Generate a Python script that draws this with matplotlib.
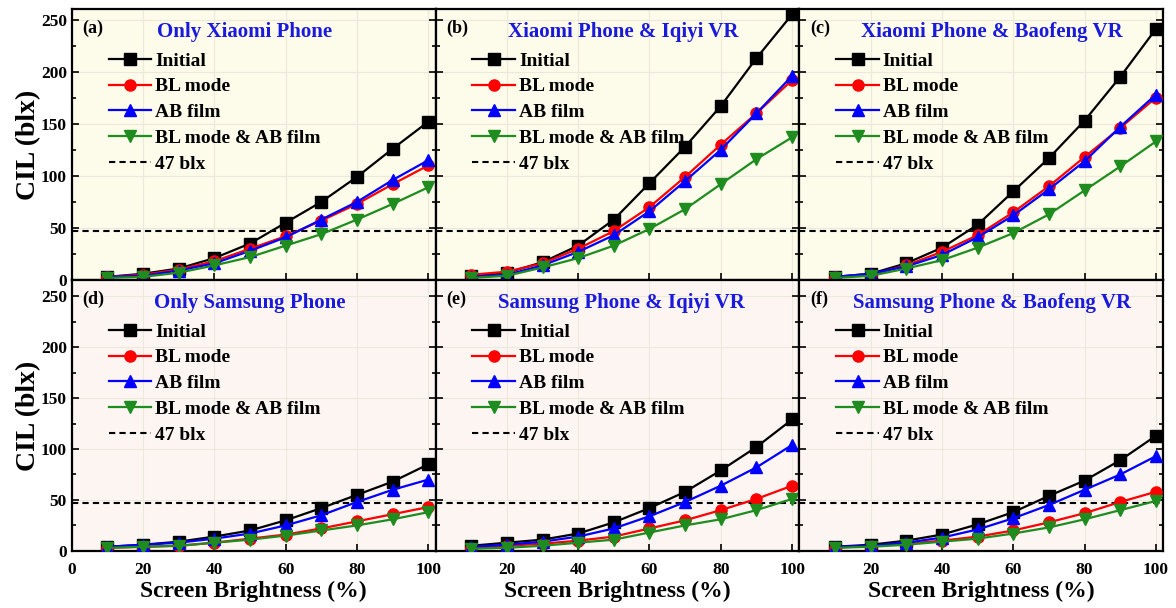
import matplotlib
matplotlib.use("Agg")
import matplotlib.pyplot as plt
from matplotlib.ticker import MultipleLocator

plt.rcParams['font.family'] = ['Liberation Serif', 'DejaVu Serif']
plt.rcParams['font.weight'] = 'bold'

brightness = [10, 20, 30, 40, 50, 60, 70, 80, 90, 100]
threshold = 47

titles = ["Only Xiaomi Phone", "Xiaomi Phone & Iqiyi VR", "Xiaomi Phone & Baofeng VR",
          "Only Samsung Phone", "Samsung Phone & Iqiyi VR", "Samsung Phone & Baofeng VR"]
letters = ["(a)", "(b)", "(c)", "(d)", "(e)", "(f)"]

# CIL values per panel: Initial, BL mode, AB film, BL mode & AB film
initial_a = [3, 6, 11, 21, 35, 55, 75, 99, 126, 152]
bl_a = [3, 5, 10, 18, 30, 42, 57, 73, 92, 110]
ab_a = [3, 4, 9, 16, 28, 41, 58, 75, 96, 115]
blab_a = [2, 3, 7, 14, 22, 33, 44, 58, 73, 89]

initial_b = [4, 7, 17, 33, 58, 93, 128, 167, 213, 255]
bl_b = [5, 8, 16, 30, 47, 70, 99, 130, 160, 192]
ab_b = [3, 5, 14, 27, 43, 66, 95, 125, 160, 196]
blab_b = [2, 4, 12, 21, 33, 49, 68, 92, 116, 137]

initial_c = [3, 6, 16, 31, 53, 85, 117, 153, 195, 241]
bl_c = [3, 5, 14, 27, 43, 65, 90, 118, 146, 175]
ab_c = [3, 6, 13, 24, 41, 62, 87, 114, 147, 178]
blab_c = [2, 4, 11, 19, 31, 45, 63, 86, 109, 133]

initial_d = [4, 6, 9, 14, 20, 30, 42, 55, 68, 85]
bl_d = [3, 4, 5, 8, 12, 16, 22, 29, 36, 43]
ab_d = [4, 6, 8, 12, 17, 25, 35, 48, 60, 70]
blab_d = [3, 4, 5, 8, 11, 15, 20, 25, 31, 38]

initial_e = [5, 8, 11, 17, 28, 42, 58, 79, 102, 129]
bl_e = [3, 5, 7, 10, 14, 22, 30, 40, 51, 64]
ab_e = [4, 6, 9, 14, 22, 34, 48, 64, 82, 104]
blab_e = [2, 3, 5, 8, 11, 18, 25, 31, 40, 51]

initial_f = [4, 6, 10, 16, 26, 38, 54, 69, 89, 113]
bl_f = [3, 5, 7, 10, 14, 20, 28, 37, 48, 58]
ab_f = [4, 5, 8, 13, 21, 32, 45, 60, 75, 93]
blab_f = [3, 4, 6, 9, 12, 17, 23, 31, 40, 49]

panels = [
    (initial_a, bl_a, ab_a, blab_a),
    (initial_b, bl_b, ab_b, blab_b),
    (initial_c, bl_c, ab_c, blab_c),
    (initial_d, bl_d, ab_d, blab_d),
    (initial_e, bl_e, ab_e, blab_e),
    (initial_f, bl_f, ab_f, blab_f),
]

series_labels = ["Initial", "BL mode", "AB film", "BL mode & AB film"]
series_colors = ["black", "red", "blue", "#1e8c1e"]
series_markers = ["s", "o", "^", "v"]
bg_colors = ["#fdfbea", "#fcf5f2"]
title_x = [0.475, 0.516, 0.53, 0.49, 0.51, 0.53]

fig, axes = plt.subplots(2, 3, figsize=(11.76, 6.08), dpi=100)
fig.subplots_adjust(left=0.061, right=0.989, top=0.985, bottom=0.094, wspace=0, hspace=0)

for i, ax in enumerate(axes.flat):
    row, col = divmod(i, 3)
    ax.set_facecolor(bg_colors[row])
    for vals, lab, c, m in zip(panels[i], series_labels, series_colors, series_markers):
        ax.plot(brightness, vals, color=c, marker=m, markersize=8, lw=1.6, label=lab,
                zorder=3)
    ax.axhline(threshold, color="black", ls=(0, (3, 2)), lw=1.5, label="47 blx", zorder=2)

    ax.set_xlim(0, 102)
    ax.set_ylim(0, 260 if row == 0 else 266)
    ax.xaxis.set_major_locator(MultipleLocator(20))
    ax.yaxis.set_major_locator(MultipleLocator(50))
    ax.yaxis.set_minor_locator(MultipleLocator(25))
    ax.grid(True, color="#ebe8dc", lw=0.8, zorder=0)
    ax.tick_params(axis="both", which="both", direction="in", right=True, top=False,
                   labelsize=12.5, width=1.2)
    ax.tick_params(which="major", length=5)
    ax.tick_params(which="minor", length=3)
    ax.tick_params(axis="x", pad=8)
    for sp in ax.spines.values():
        sp.set_linewidth(1.6)

    ax.text(0.03, 0.96, letters[i], transform=ax.transAxes, fontsize=13,
            fontweight="bold", va="top", ha="left")
    ax.text(title_x[i], 0.915, titles[i], transform=ax.transAxes, fontsize=15,
            fontweight="bold", color="#1a1adc", va="center", ha="center")
    ax.legend(loc="upper left", bbox_to_anchor=(0.08, 0.87), frameon=False,
              fontsize=14, handlelength=2.2, handletextpad=0.2, labelspacing=0.42,
              borderaxespad=0)

    if col == 0:
        ax.set_ylabel("CIL (blx)", fontsize=20, fontweight="bold", labelpad=0)
    else:
        ax.tick_params(labelleft=False)
    if row == 1:
        ax.set_xlabel("Screen Brightness (%)", fontsize=17, fontweight="bold", labelpad=2)
        if col > 0:
            ax.set_xticks([20, 40, 60, 80, 100])
    else:
        ax.tick_params(labelbottom=False)

fig.savefig("out.png", dpi=100)
